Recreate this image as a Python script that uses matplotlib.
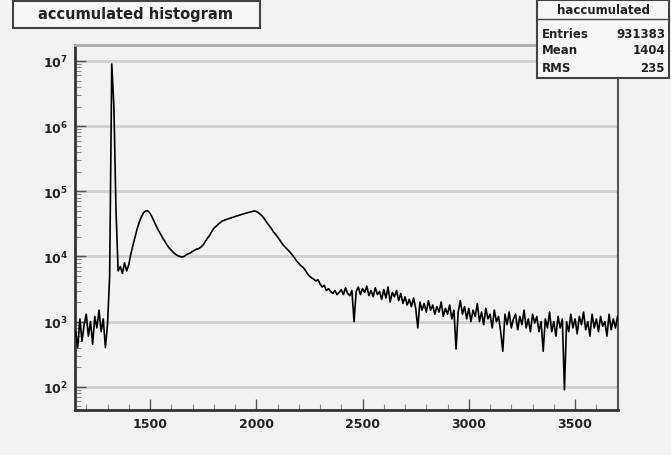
import numpy as np
import matplotlib
matplotlib.use("Agg")
import matplotlib.pyplot as plt
from matplotlib.patches import Rectangle
from matplotlib.ticker import LogLocator, FixedLocator, MultipleLocator

# bin centres (step 10) and counts
x_start = 1150
x_step = 10
counts = [
    # 1150 - 1300: low noisy region
    700, 400, 1100, 500, 900, 1300, 600, 1000, 450, 1200, 800, 1500, 700, 1100, 400, 900,
    # 1310 - 1400: spike and wiggle
    5e3, 9e6, 2e6, 5e4, 6e3, 7e3, 5.5e3, 8e3, 6e3, 7.5e3,
    # 1410 - 1500: first bump
    1.1e4, 1.5e4, 2e4, 2.7e4, 3.4e4, 4.1e4, 4.7e4, 5e4, 5e4, 4.6e4,
    # 1510 - 1650
    4e4, 3.4e4, 2.9e4, 2.5e4, 2.2e4, 1.9e4, 1.7e4, 1.5e4, 1.35e4, 1.25e4,
    1.15e4, 1.08e4, 1.03e4, 1.0e4, 9.8e3,
    # 1660 - 2000: second bump
    1.0e4, 1.06e4, 1.1e4, 1.13e4, 1.2e4, 1.25e4, 1.3e4, 1.32e4, 1.4e4, 1.5e4,
    1.7e4, 1.9e4, 2.1e4, 2.4e4, 2.7e4, 2.9e4, 3.1e4, 3.3e4, 3.5e4, 3.6e4,
    3.7e4, 3.8e4, 3.9e4, 4.0e4, 4.1e4, 4.2e4, 4.3e4, 4.4e4, 4.5e4, 4.6e4,
    4.7e4, 4.8e4, 4.9e4, 5.0e4, 4.9e4,
    # 2010 - 2380: falling edge
    4.7e4, 4.4e4, 4.1e4, 3.7e4, 3.3e4, 3.0e4, 2.7e4, 2.4e4, 2.2e4, 2.0e4,
    1.8e4, 1.6e4, 1.45e4, 1.35e4, 1.25e4, 1.15e4, 1.05e4, 9.5e3, 8.5e3, 7.8e3,
    7.2e3, 6.8e3, 6.2e3, 5.5e3, 5.0e3, 4.7e3, 4.5e3, 4.2e3, 4.4e3, 3.8e3,
    3.4e3, 3.6e3, 3.0e3, 3.2e3, 2.9e3, 2.7e3, 3.0e3, 2.6e3,
    # 2390 - 2700: tail
    2800, 3100, 2600, 3300, 2700, 2500, 3000, 1000, 2900, 3400,
    2600, 3200, 2800, 3500, 2500, 3000, 2400, 3300, 2600, 2900,
    2200, 3100, 2300, 3400, 2000, 2800, 2400, 3000, 2100, 2700,
    1900, 2400,
    # 2710 - 3000
    1800, 2200, 1700, 2300, 1600, 800, 2000, 1500, 1900, 1400,
    2100, 1500, 1800, 1300, 1700, 1400, 2000, 1200, 1600, 1300,
    1800, 1100, 1500, 380, 1400, 2100, 1300, 1700, 1100, 1600,
    # 3010 - 3300
    1000, 1500, 1200, 1900, 1000, 1400, 900, 1600, 1100, 1300,
    800, 1500, 1000, 1200, 700, 350, 1300, 900, 1400, 800,
    1100, 1300, 750, 1200, 900, 1500, 800, 1100, 700, 1300,
    # 3310 - 3700
    950, 1200, 700, 1000, 350, 1100, 800, 1400, 700, 1000,
    600, 1200, 800, 1100, 90, 1000, 700, 1300, 800, 1100,
    650, 1200, 900, 1400, 750, 1000, 600, 1300, 800, 1100,
    700, 1200, 850, 1000, 600, 1300, 750, 1100, 800, 1200,
]
x_ticks = [1500, 2000, 2500, 3000, 3500]
y_decades = [1e2, 1e3, 1e4, 1e5, 1e6, 1e7]
x_range = (1147, 3702)
y_range = (44, 1.76e7)

title = "accumulated histogram"
stats_name = "haccumulated"
stats_rows = [("Entries", "931383"), ("Mean", "1404"), ("RMS", "235")]

bg = "#f2f2f2"
x = x_start + x_step * np.arange(len(counts))

fig = plt.figure(figsize=(6.71, 4.56), dpi=100, facecolor=bg)
ax = fig.add_axes([75 / 671, 1 - 411 / 456, (618 - 75) / 671, (411 - 46) / 456])
ax.set_facecolor(bg)

ax.set_yscale("log")
ax.set_xlim(*x_range)
ax.set_ylim(*y_range)

for d in y_decades:
    ax.axhline(d, color="#d0d0d0", lw=2.0, zorder=0)

ax.plot(x, counts, color="black", lw=1.2, zorder=3)

ax.xaxis.set_major_locator(FixedLocator(x_ticks))
ax.xaxis.set_minor_locator(MultipleLocator(100))
ax.yaxis.set_major_locator(FixedLocator(y_decades))
ax.yaxis.set_minor_locator(LogLocator(base=10, subs=np.arange(2, 10)))
ax.yaxis.set_minor_formatter(plt.NullFormatter())
ax.set_yticklabels([r"$\mathbf{10^{%d}}$" % int(np.log10(d)) for d in y_decades])
ax.set_xticklabels([str(t) for t in x_ticks])

ax.tick_params(axis="both", which="major", direction="in", length=8, width=1.0,
               color="#555555", labelsize=9, pad=5)
ax.tick_params(axis="both", which="minor", direction="in", length=4, width=0.8,
               color="#888888")
for lab in ax.get_xticklabels() + ax.get_yticklabels():
    lab.set_fontweight("bold")
    lab.set_color("#222222")

for side in ["left", "bottom"]:
    ax.spines[side].set_linewidth(2.0)
    ax.spines[side].set_color("#333333")
ax.spines["right"].set_linewidth(1.5)
ax.spines["right"].set_color("#555555")
ax.spines["top"].set_linewidth(2.0)
ax.spines["top"].set_color("#aaaaaa")

# title box
fig.patches.append(Rectangle((13 / 671, 1 - 29 / 456), (260 - 13) / 671, 27 / 456,
                             transform=fig.transFigure, facecolor="#f7f7f7",
                             edgecolor="#444444", lw=1.5))
fig.text(136 / 671, 1 - 15 / 456, title, ha="center", va="center",
         fontsize=10.5, fontweight="bold", color="#222222")

# stats box
bx0, bx1, by0, by1 = 537, 669, 1, 79
fig.patches.append(Rectangle((bx0 / 671, 1 - by1 / 456), (bx1 - bx0) / 671, (by1 - by0) / 456,
                             transform=fig.transFigure, facecolor="#f7f7f7",
                             edgecolor="#444444", lw=1.5))
fig.lines.append(plt.Line2D([bx0 / 671, bx1 / 671], [1 - 20 / 456, 1 - 20 / 456],
                            transform=fig.transFigure, color="#444444", lw=1.0))
fig.text((bx0 + bx1) / 2 / 671, 1 - 11 / 456, stats_name, ha="center", va="center",
         fontsize=8.5, fontweight="bold", color="#222222")
for i, (k, v) in enumerate(stats_rows):
    yy = 1 - (34 + 17 * i) / 456
    fig.text((bx0 + 5) / 671, yy, k, ha="left", va="center", fontsize=8.5,
             fontweight="bold", color="#222222")
    fig.text((bx1 - 4) / 671, yy, v, ha="right", va="center", fontsize=8.5,
             fontweight="bold", color="#222222")

fig.savefig("out.png", dpi=100, facecolor=bg)
